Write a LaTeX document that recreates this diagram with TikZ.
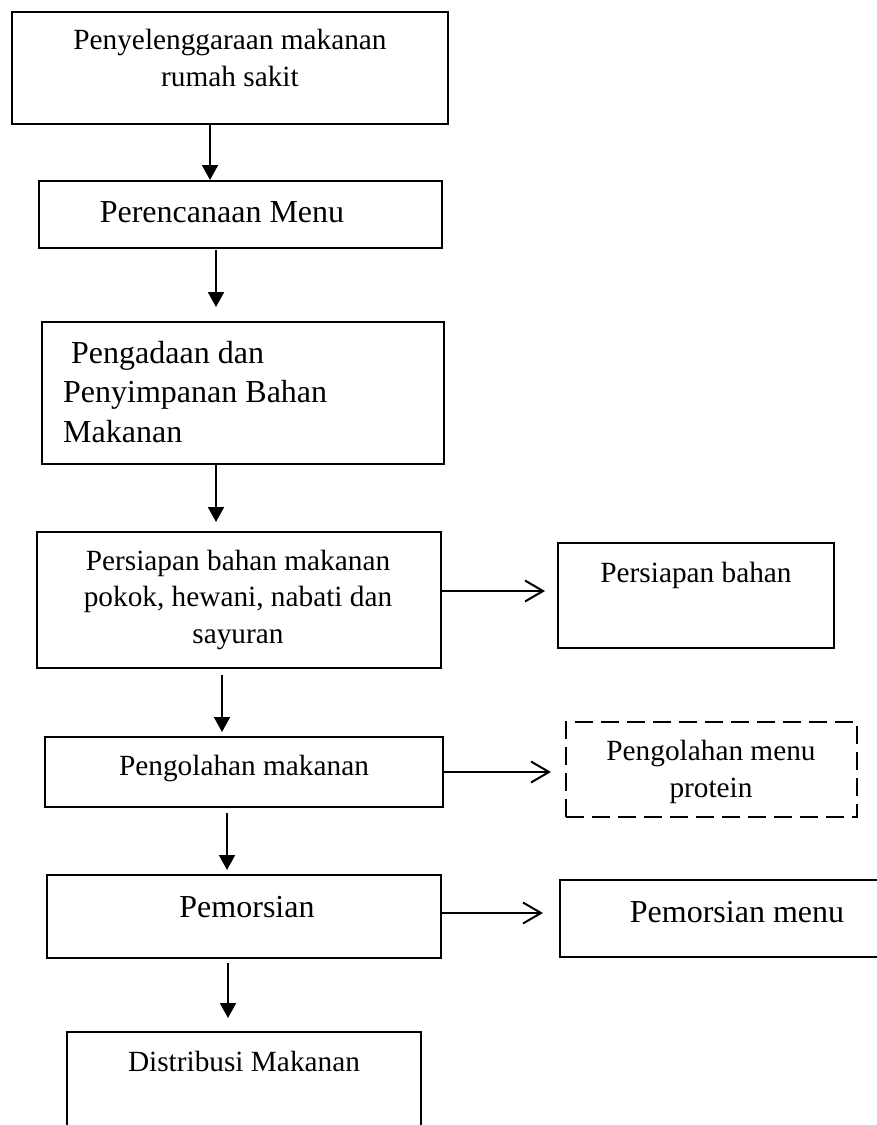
\documentclass[tikz,border=0pt]{standalone}
\usepackage{fontspec}
\setmainfont{Liberation Serif}
\usetikzlibrary{arrows.meta}
\begin{document}
\begin{tikzpicture}[x=1pt,y=-1pt,
  box/.style={draw, line width=2.2pt, inner sep=0pt, outer sep=0pt},
  dbox/.style={box, dash pattern=on 18pt off 8pt},
  lbl/.style={inner sep=0pt, anchor=base, align=center},
  fs/.style={font=\fontsize{29.3}{36.5}\selectfont},
  fb/.style={font=\fontsize{32}{39.5}\selectfont},
  va/.style={line width=2pt, -{Triangle[length=15pt,width=16pt]}},
  ha/.style={line width=2pt, -{Straight Barb[length=18pt,width=21pt,line width=2pt]}}]
\useasboundingbox (0,0) rectangle (877,1125);
\clip (0,0) rectangle (877,1125);
% boxes
\node[box, minimum width=436pt, minimum height=112pt] (b1) at (230,68) {};
\node[box, minimum width=403pt, minimum height=67pt] (b2) at (240.5,214.5) {};
\node[box, minimum width=402pt, minimum height=142pt] (b3) at (243,393) {};
\node[box, minimum width=404pt, minimum height=136pt] (b4) at (239,600) {};
\node[box, minimum width=276pt, minimum height=105pt] (b5) at (696,595.5) {};
\node[box, minimum width=398pt, minimum height=70pt] (b6) at (244,772) {};
\node[dbox, minimum width=291pt, minimum height=95pt] (b7) at (711.5,769.5) {};
\node[box, minimum width=394pt, minimum height=83pt] (b8) at (244,916.5) {};
\node[box, minimum width=330pt, minimum height=77pt] (b9) at (725,918.5) {};
\node[box, minimum width=354pt, minimum height=108pt] (b10) at (244,1086) {};
% texts
\node[lbl, fs] (t1) at (230,86) {Penyelenggaraan makanan\\rumah sakit};
\node[lbl, fb] (t2) at (222,222) {Perencanaan Menu};
\node[lbl, fb, anchor=base west, align=left] (t3) at (63,442) {\hspace*{.25em}Pengadaan dan\\Penyimpanan Bahan\\Makanan};
\node[lbl, fs] (t4) at (238,643) {Persiapan bahan makanan\\pokok, hewani, nabati dan\\sayuran};
\node[lbl, fs] (t5) at (696,582) {Persiapan bahan};
\node[lbl, fs] (t6) at (244,775) {Pengolahan makanan};
\node[lbl, fs] (t7) at (711,797) {Pengolahan menu\\protein};
\node[lbl, fb] (t8) at (247,917) {Pemorsian};
\node[lbl, fb] (t9) at (737,922) {Pemorsian menu};
\node[lbl, fs] (t10) at (244,1071) {Distribusi Makanan};
% vertical arrows
\draw[va, shorten >=1pt] ([xshift=-20pt]b1.south) -- ([xshift=-20pt]b1.south |- b2.north);
\draw[va, shorten <=2pt, shorten >=15pt] ([xshift=-24.5pt]b2.south) -- ([xshift=-24.5pt]b2.south |- b3.north);
\draw[va, shorten >=10pt] ([xshift=-27pt]b3.south) -- ([xshift=-27pt]b3.south |- b4.north);
\draw[va, shorten <=7pt, shorten >=5pt] ([xshift=-17pt]b4.south) -- ([xshift=-17pt]b4.south |- b6.north);
\draw[va, shorten <=6pt, shorten >=5pt] ([xshift=-17pt]b6.south) -- ([xshift=-17pt]b6.south |- b8.north);
\draw[va, shorten <=5pt, shorten >=14pt] ([xshift=-16pt]b8.south) -- ([xshift=-16pt]b8.south |- b10.north);
% horizontal arrows
\draw[ha, shorten >=13pt] ([yshift=9pt]b4.east) -- ([yshift=9pt]b4.east -| b5.west);
\draw[ha, shorten >=15pt] (b6.east) -- (b6.east -| b7.west);
\draw[ha, shorten >=17pt] ([yshift=3.5pt]b8.east) -- ([yshift=3.5pt]b8.east -| b9.west);
\end{tikzpicture}
\end{document}
